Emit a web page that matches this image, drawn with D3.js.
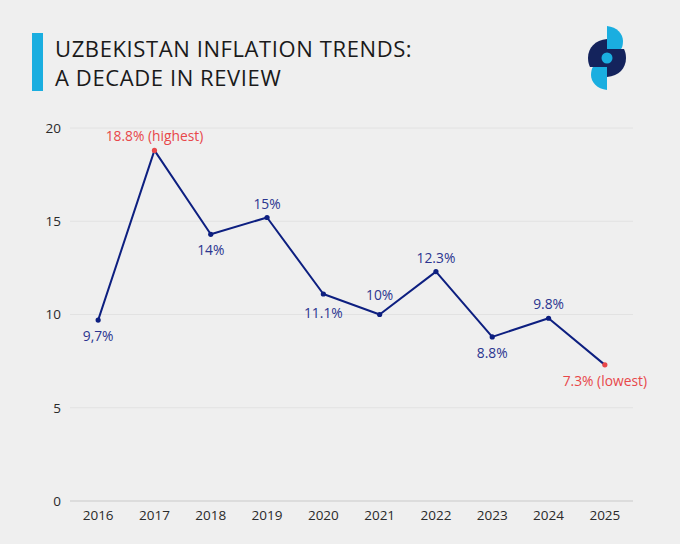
<!DOCTYPE html>
<html>
<head>
<meta charset="utf-8">
<script src="https://cdn.jsdelivr.net/npm/d3@7"></script>
<style>
  html, body { margin: 0; padding: 0; background: #efefef; }
  svg { display: block; font-family: "Open Sans", sans-serif; }
</style>
</head>
<body>
<div class="display"></div>
<script>
var years = ["2016", "2017", "2018", "2019", "2020", "2021", "2022", "2023", "2024", "2025"];
var inflation = [9.7, 18.8, 14.3, 15.2, 11.1, 10.0, 12.3, 8.8, 9.8, 7.3];
var pointLabels = ["9,7%", "18.8% (highest)", "14%", "15%", "11.1%", "10%", "12.3%", "8.8%", "9.8%", "7.3% (lowest)"];
var labelSide = ["below", "above", "below", "above", "below", "above", "above", "below", "above", "below"];
var yTicks = [0, 5, 10, 15, 20];

var width = 680, height = 544;
var margin = { top: 128, right: 47, bottom: 43, left: 70 };
var navy = "#0d1f80";
var labelColor = "#2b3590";
var red = "#e8474a";
var cyan = "#1aaee0";

var svg = d3.select(".display")
  .append("svg")
  .attr("width", width)
  .attr("height", height);

svg.append("rect").attr("width", width).attr("height", height).attr("fill", "#efefef");

// title block
svg.append("rect")
  .attr("x", 32).attr("y", 33).attr("width", 11).attr("height", 58)
  .attr("fill", cyan);

var title = svg.append("text")
  .attr("fill", "#1a1a1a")
  .attr("font-size", 22)
  .attr("letter-spacing", "0.6px");
title.append("tspan").attr("x", 55).attr("y", 57).text("UZBEKISTAN INFLATION TRENDS:");
title.append("tspan").attr("x", 55).attr("y", 86).text("A DECADE IN REVIEW");

// logo: two pieces, repeated rotated 180deg
var logo = svg.append("g").attr("transform", "translate(607,58)");
var darkPiece = "M0,-19 C-12,-18 -19,-10 -19,0 C-19,4 -18,7 -17,9 L0,9 Z";
var lightPiece = "M0,-32 C10,-31 16,-24 16,-17 C16,-13 15,-10 14,-9 L0,-9 Z";
[0, 180].forEach(function(angle) {
  logo.append("path").attr("d", lightPiece).attr("fill", cyan)
    .attr("transform", "rotate(" + angle + ")");
});
[0, 180].forEach(function(angle) {
  logo.append("path").attr("d", darkPiece).attr("fill", "#14235c")
    .attr("transform", "rotate(" + angle + ")");
});
logo.append("circle").attr("r", 5.5).attr("fill", cyan);

// scales
var x = d3.scaleBand()
  .domain(years)
  .range([margin.left, width - margin.right]);

var y = d3.scaleLinear()
  .domain([0, 20])
  .range([height - margin.bottom, margin.top]);

// grid
svg.append("g")
  .selectAll("line")
  .data(yTicks)
  .enter().append("line")
  .attr("x1", margin.left)
  .attr("x2", width - margin.right)
  .attr("y1", function(d) { return y(d); })
  .attr("y2", function(d) { return y(d); })
  .attr("stroke", function(d) { return d === 0 ? "#d6d6d6" : "#e2e2e2"; })
  .attr("stroke-width", function(d) { return d === 0 ? 1.5 : 1; });

// y axis labels
var yAxis = svg.append("g")
  .attr("transform", "translate(" + (margin.left - 9) + ",0)")
  .call(d3.axisLeft(y).tickValues(yTicks).tickSize(0).tickPadding(0));
yAxis.select(".domain").remove();
yAxis.selectAll("text")
  .attr("font-family", "Open Sans, sans-serif")
  .attr("font-size", 13.5)
  .attr("fill", "#2a2a2a");

// x axis labels
var xAxis = svg.append("g")
  .attr("transform", "translate(0," + (height - margin.bottom) + ")")
  .call(d3.axisBottom(x).tickSize(0).tickPadding(9));
xAxis.select(".domain").remove();
xAxis.selectAll("text")
  .attr("font-family", "Open Sans, sans-serif")
  .attr("font-size", 13.5)
  .attr("fill", "#2a2a2a");

var cx = function(d, i) { return x(years[i]) + x.bandwidth() / 2; };

// line
var line = d3.line()
  .x(function(d, i) { return cx(d, i); })
  .y(function(d) { return y(d); });

svg.append("path")
  .datum(inflation)
  .attr("d", line)
  .attr("fill", "none")
  .attr("stroke", navy)
  .attr("stroke-width", 2)
  .attr("stroke-linejoin", "round");

var isRed = function(i) { return i === 1 || i === inflation.length - 1; };

svg.append("g")
  .selectAll("circle")
  .data(inflation)
  .enter().append("circle")
  .attr("cx", cx)
  .attr("cy", function(d) { return y(d); })
  .attr("r", 2.6)
  .attr("fill", function(d, i) { return isRed(i) ? red : navy; });

// a couple of labels sit a bit further off the line
var extraGap = { "2020": 3, "2021": 6 };

svg.append("g")
  .selectAll("text")
  .data(inflation)
  .enter().append("text")
  .attr("x", cx)
  .attr("y", function(d, i) {
    var gap = extraGap[years[i]] || 0;
    return labelSide[i] === "above" ? y(d) - 9 - gap : y(d) + 21 + gap;
  })
  .attr("text-anchor", "middle")
  .attr("font-size", 13.8)
  .attr("fill", function(d, i) { return isRed(i) ? red : labelColor; })
  .text(function(d, i) { return pointLabels[i]; });
</script>
</body>
</html>
